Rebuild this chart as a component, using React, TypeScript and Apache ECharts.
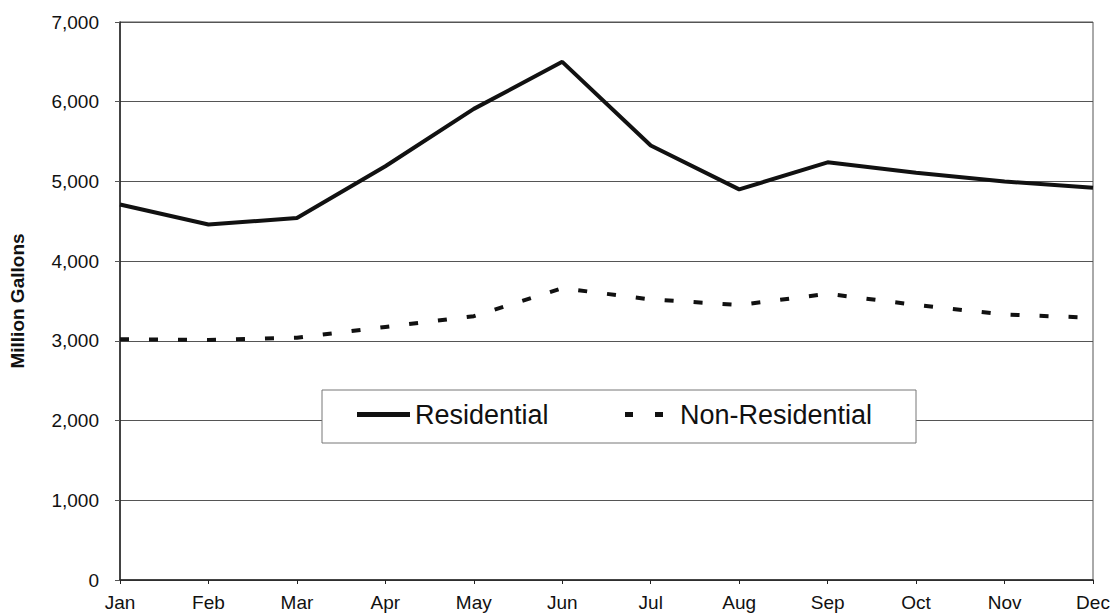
import React, { useEffect, useRef } from "react";
import * as echarts from "echarts";

const months = ["Jan", "Feb", "Mar", "Apr", "May", "Jun", "Jul", "Aug", "Sep", "Oct", "Nov", "Dec"];
const residential = [4710, 4460, 4540, 5190, 5910, 6500, 5450, 4900, 5240, 5110, 5000, 4920];
const nonResidential = [3020, 3010, 3040, 3175, 3310, 3660, 3520, 3450, 3590, 3450, 3330, 3290];
const yTicks = { min: 0, max: 7000, interval: 1000 };

const FONT = "'Liberation Sans', Arial, sans-serif";

export default function App() {
  const ref = useRef<HTMLDivElement>(null);
  useEffect(() => {
    if (!ref.current) return;
    const chart = echarts.init(ref.current, null, { renderer: "svg" });
    const legendText = { fontFamily: FONT, fontSize: 27, color: "#111" };
    chart.setOption({
      animation: false,
      backgroundColor: "#ffffff",
      grid: {
        left: 118,
        right: 24,
        top: 22,
        bottom: 34,
        show: true,
        borderColor: "#555",
        borderWidth: 1,
      },
      graphic: [
        {
          type: "rect",
          z: 3,
          shape: { x: 322, y: 390, width: 594, height: 53 },
          style: { fill: "#ffffff", stroke: "#777", lineWidth: 1 },
        },
        {
          type: "rect",
          z: 12,
          shape: { x: 625, y: 412, width: 8, height: 5 },
          style: { fill: "#111" },
        },
        {
          type: "rect",
          z: 12,
          shape: { x: 655, y: 412, width: 8, height: 5 },
          style: { fill: "#111" },
        },
      ],
      legend: [
        {
          left: 357,
          top: 401,
          padding: 0,
          itemWidth: 53,
          itemHeight: 5,
          icon: "rect",
          itemStyle: { color: "#111", borderWidth: 0 },
          textStyle: legendText,
          data: ["Residential"],
          z: 10,
        },
        {
          left: 625,
          top: 401,
          padding: 0,
          itemWidth: 38,
          itemHeight: 5,
          icon: "rect",
          itemStyle: { color: "rgba(0,0,0,0)", borderWidth: 0, opacity: 0 },
          textStyle: { ...legendText, padding: [0, 0, 0, 12] },
          data: ["Non-Residential"],
          z: 10,
        },
      ],
      xAxis: {
        type: "category",
        data: months,
        boundaryGap: false,
        axisLine: { lineStyle: { color: "#222", width: 1.5 } },
        axisTick: { show: true, length: 4, lineStyle: { color: "#222" } },
        axisLabel: { fontFamily: FONT, fontSize: 19, color: "#111", margin: 13 },
        splitLine: { show: false },
      },
      yAxis: {
        type: "value",
        min: yTicks.min,
        max: yTicks.max,
        interval: yTicks.interval,
        name: "Million Gallons",
        nameLocation: "middle",
        nameGap: 93,
        nameTextStyle: { fontFamily: FONT, fontSize: 19, fontWeight: "bold", color: "#111" },
        axisLine: { show: true, lineStyle: { color: "#222", width: 1.5 } },
        axisTick: { show: true, length: 5, lineStyle: { color: "#555" } },
        axisLabel: {
          fontFamily: FONT,
          fontSize: 19,
          color: "#111",
          margin: 21,
          formatter: (v: number) => v.toLocaleString("en-US"),
        },
        splitLine: { show: true, lineStyle: { color: "#555", width: 1 } },
      },
      series: [
        {
          name: "Residential",
          type: "line",
          data: residential,
          symbol: "none",
          lineStyle: { color: "#111", width: 4 },
          itemStyle: { color: "#111" },
        },
        {
          name: "Non-Residential",
          type: "line",
          data: nonResidential,
          symbol: "none",
          lineStyle: { color: "#111", width: 4, type: [9, 20] },
          itemStyle: { color: "#111" },
        },
      ],
    });
    return () => chart.dispose();
  }, []);
  return <div ref={ref} style={{ width: 1117, height: 614, position: "absolute", left: 0, top: 0 }} />;
}
